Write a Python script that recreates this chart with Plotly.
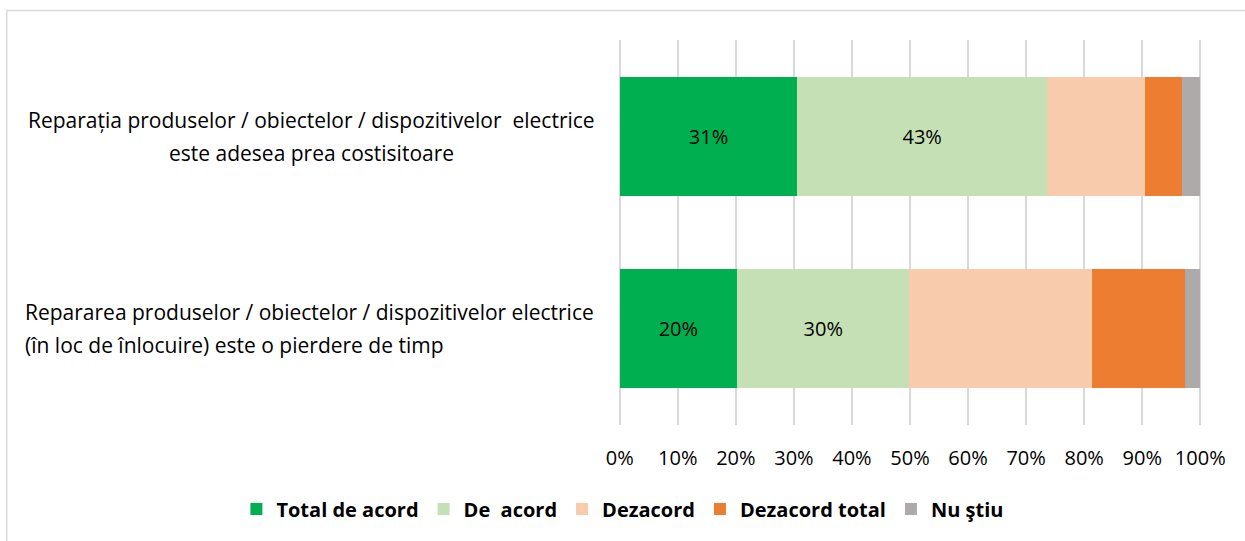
import plotly.graph_objects as go

# ---- data ----
categories = ["Reparația", "Repararea"]
label_lines = [
    ["Reparația produselor / obiectelor / dispozitivelor  electrice", "este adesea prea costisitoare"],
    ["Repararea produselor / obiectelor / dispozitivelor electrice", "(în loc de înlocuire) este o pierdere de timp"],
]
label_align = ["center", "left"]
series_names = ["Total de acord", "De  acord", "Dezacord", "Dezacord total", "Nu ştiu"]
series_values = [
    [0.306, 0.202],
    [0.430, 0.297],
    [0.169, 0.314],
    [0.063, 0.161],
    [0.032, 0.026],
]
show_labels = [True, True, False, False, False]
series_colors = ["#00B050", "#C5E0B4", "#F8CBAD", "#ED7D31", "#AEAAAA"]
tick_vals = [i / 10 for i in range(11)]
tick_text = [f"{i*10}%" for i in range(11)]

FONT = "Open Sans"

# layout geometry (pixels): 0% at x=620, 100% at x=1200
PAD = 0.003
X0, X100 = 620, 1200
UNIT = X100 - X0
L = X0 - PAD * UNIT
W = UNIT * (1 + 2 * PAD)
R = 1245 - L - W


def px_to_paper(px):
    return (px - L) / W


fig = go.Figure()
for name, vals, col, lab in zip(series_names, series_values, series_colors, show_labels):
    fig.add_trace(go.Bar(
        y=categories, x=vals, name=name, orientation="h",
        marker=dict(color=col, line=dict(width=0)),
        text=[f"{round(v*100)}%" for v in vals] if lab else None,
        textposition="inside" if lab else "none",
        insidetextanchor="middle",
        textfont=dict(family=FONT, size=20, color="#000000"),
        hoverinfo="x+name",
    ))

annotations = []
for cat, lines, al in zip(categories, label_lines, label_align):
    for i, line in enumerate(lines):
        if al == "center":
            ann = dict(x=px_to_paper(312.5), xanchor="center")
        else:
            ann = dict(x=px_to_paper(24), xanchor="left")
        ann.update(
            xref="paper", yref="y", y=cat, yanchor="middle",
            yshift=16.5 - 33 * i, text=line, showarrow=False, align=al,
            font=dict(family=FONT, size=21, color="#000000"),
        )
        annotations.append(ann)

fig.update_layout(
    width=1245, height=541,
    margin=dict(l=L, r=R, t=40, b=116),
    paper_bgcolor="white", plot_bgcolor="white",
    barmode="stack", bargap=0.38,
    font=dict(family=FONT, color="#000000"),
    xaxis=dict(
        range=[-PAD, 1 + PAD], tickvals=tick_vals, ticktext=tick_text,
        showgrid=True, gridcolor="#D9D9D9", gridwidth=1.5,
        zeroline=False, showline=False,
        ticks="outside", ticklen=15, tickcolor="rgba(0,0,0,0)",
        tickfont=dict(family=FONT, size=20, color="#000000"),
    ),
    yaxis=dict(
        autorange="reversed", showticklabels=False, showgrid=False, zeroline=False,
    ),
    showlegend=True,
    legend=dict(
        orientation="h", xref="paper", yref="paper",
        x=px_to_paper(237), y=(425 - 509) / 385, xanchor="left", yanchor="middle",
        font=dict(family=FONT, size=20, color="#000000", weight="bold"),
        traceorder="normal", itemwidth=30,
    ),
    annotations=annotations,
    shapes=[dict(
        type="rect", xref="paper", yref="paper",
        x0=px_to_paper(7.5), x1=1.3, y0=-0.5, y1=(425 - 10.5) / 385,
        line=dict(color="#D9D9D9", width=1.5), fillcolor="rgba(0,0,0,0)", layer="below",
    )],
)

fig.write_html(
    "out.html",
    config={"displayModeBar": False},
    post_script="document.body.style.margin='0';document.body.style.overflow='hidden';",
)
